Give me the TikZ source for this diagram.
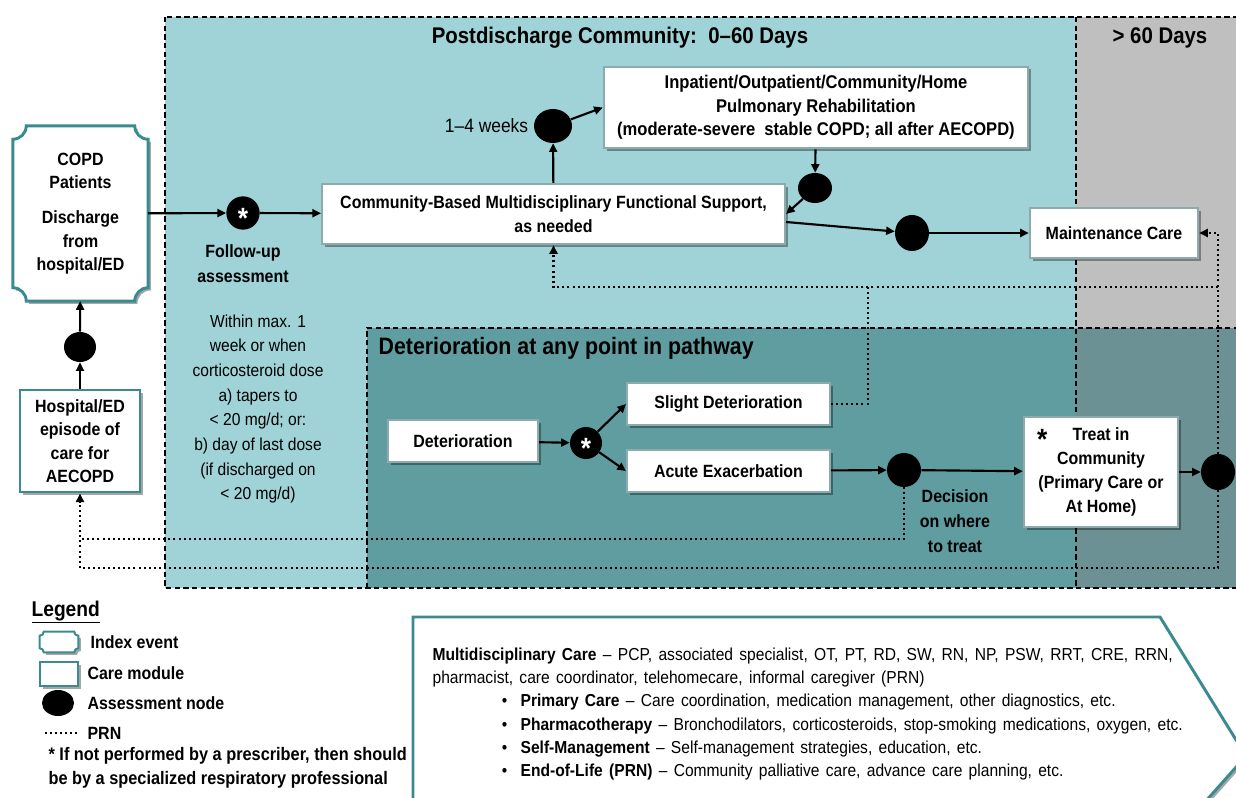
\documentclass[tikz,border=0pt]{standalone}
\usepackage{fontspec}
\setmainfont{Liberation Sans}[FakeStretch=0.9]
\newfontfamily\narrowfont{Liberation Sans}[FakeStretch=0.9, WordSpace=1.45]
\usetikzlibrary{arrows.meta, positioning, shapes.geometric, shadows, backgrounds, calc}
\definecolor{clrCommunity}{HTML}{9FD3D7}
\definecolor{clrLater}{HTML}{BFBFBF}
\definecolor{clrDeter}{HTML}{5F9DA1}
\definecolor{clrDeterLater}{HTML}{6B9195}
\definecolor{clrIndex}{HTML}{3A8B91}
\definecolor{clrBoxLine}{HTML}{8DAAAD}

% outline with concave corners round a node (index event)
\newcommand{\indexoutline}[3][]{%
  \path[#1] let \p1=(#2.north west), \p2=(#2.south east), \n1={#3}, \n2={0.552*#3} in
    (\x1+\n1,\y1) -- (\x2-\n1,\y1)
    .. controls (\x2-\n1,\y1-\n2) and (\x2-\n2,\y1-\n1) .. (\x2,\y1-\n1)
    -- (\x2,\y2+\n1)
    .. controls (\x2-\n2,\y2+\n1) and (\x2-\n1,\y2+\n2) .. (\x2-\n1,\y2)
    -- (\x1+\n1,\y2)
    .. controls (\x1+\n1,\y2+\n2) and (\x1+\n2,\y2+\n1) .. (\x1,\y2+\n1)
    -- (\x1,\y1-\n1)
    .. controls (\x1+\n2,\y1-\n1) and (\x1+\n1,\y1-\n2) .. (\x1+\n1,\y1)
    -- cycle;}

\begin{document}
\begin{tikzpicture}[
  x=0.75pt, y=-0.75pt,
  every node/.style={inner sep=1pt},
  shade/.style={drop shadow={shadow xshift=2pt, shadow yshift=-2pt, fill=black, opacity=0.35}},
  box/.style={
    rectangle,
    draw=clrBoxLine,
    line width=1.8pt,
    fill=white,
    align=center,
    font=\bfseries\fontsize{13.3}{17.5}\selectfont,
    shade
  },
  carebox/.style={box, draw=clrIndex, line width=2.2pt},
  indexnode/.style={rectangle, align=center, font=\bfseries\fontsize{13.3}{17.5}\selectfont},
  indexline/.style={draw=clrIndex, line width=2.2pt, fill=white, shade},
  assess/.style={ellipse, fill=black, inner sep=0pt, minimum width=25.5pt, minimum height=24pt},
  starnode/.style={circle, fill=black, inner sep=0pt, minimum size=25pt,
    text=white, font=\bfseries\fontsize{22}{22}\selectfont},
  flow/.style={-{Triangle[length=6.5pt, width=6pt]}, line width=1.6pt},
  prn/.style={line width=1.8pt, dash pattern=on 1.5pt off 2.3pt},
  prnflow/.style={prn, -{Triangle[length=6.5pt, width=6pt]}},
  zone/.style={line width=0.9pt, dash pattern=on 4pt off 2.5pt},
  title/.style={font=\bfseries\fontsize{17}{20}\selectfont},
  note/.style={align=center, font=\fontsize{13}{18.5}\selectfont},
  notebf/.style={align=center, font=\bfseries\fontsize{13.3}{18.5}\selectfont},
  legtext/.style={anchor=west, font=\bfseries\fontsize{13.3}{18}\selectfont}
]
\useasboundingbox (0,0) rectangle (1236,798);

% ── zones ────────────────────────────────────────────────────────────────────
\begin{pgfonlayer}{background}
  \fill[clrCommunity] (165,17) rectangle (1076,588);
  \fill[clrLater] (1076,17) rectangle (1240,588);
  \fill[clrDeter] (367,328) rectangle (1076,588);
  \fill[clrDeterLater] (1076,328) rectangle (1240,588);
  \draw[zone] (165,17) rectangle (1240,588);
  \draw[zone] (1076,17) -- (1076,588);
  \draw[zone] (367,588) |- (1240,328);
\end{pgfonlayer}

\node[title] (ttlComm) at (620,38) {Postdischarge Community:\ \ 0–60 Days};
\node[title] (ttlLate) at (1160,38) {> 60 Days};
\node[title, anchor=west, font=\bfseries\fontsize{17.8}{20}\selectfont] (ttlDeter) at (377,348)
  {Deterioration at any point in pathway};

% ── index event and hospital ─────────────────────────────────────────────────
\node[indexnode, minimum width=101pt, minimum height=131pt] (copd) at (80.5,213.5)
  {COPD\\Patients\\[9pt]Discharge\\from\\hospital/ED};
\node[carebox, minimum width=90pt, minimum height=76.5pt] (hosp) at (80,441)
  {Hospital/ED\\episode of\\care for\\AECOPD};
\node[assess, minimum width=24pt, minimum height=22.5pt] (aHosp) at (80,347) {};

% ── community ────────────────────────────────────────────────────────────────
\node[starnode] (fu) at (243,213) {\raisebox{-0.52em}[0pt][0pt]{*}};
\node[notebf, below=10pt of fu] (fuLabel) {Follow-up\\assessment};
\node[note, anchor=north] (fuWhen) at (258,313)
  {Within max. 1\\week or when\\corticosteroid dose\\a) tapers to\\< 20 mg/d; or:\\b) day of last dose\\(if discharged on\\< 20 mg/d)};

\node[box, minimum width=347pt, minimum height=45pt] (cbs) at (553.5,214)
  {Community-Based Multidisciplinary Functional Support,\\as needed};
\node[assess, minimum width=28.5pt, minimum height=25.5pt] (aWeeks) at (553,126) {};
\node[note, left=3pt of aWeeks, font=\fontsize{14.5}{16}\selectfont] (weeks) {1–4 weeks};
\node[box, minimum width=318pt, minimum height=61pt, font=\bfseries\fontsize{13.8}{17.5}\selectfont] (rehab) at (816,107.5)
  {Inpatient/Outpatient/Community/Home\\Pulmonary Rehabilitation\\(moderate-severe\ \ stable COPD; all after AECOPD)};
\node[assess, minimum width=25.5pt, minimum height=22.5pt] (aRehab) at (815,188) {};
\node[assess, minimum width=25.5pt, minimum height=27pt] (aMaint) at (912,233) {};
\node[box, minimum width=126pt, minimum height=37.5pt] (maint) at (1114,233) {Maintenance Care};

% ── deterioration ────────────────────────────────────────────────────────────
\node[box, minimum width=112.5pt, minimum height=31.5pt] (deter) at (463,441) {Deterioration};
\node[starnode, minimum size=24pt] (aDeter) at (586,443) {\raisebox{-0.52em}[0pt][0pt]{*}};
\node[box, minimum width=152pt, minimum height=31.5pt] (slight) at (728.5,404) {Slight Deterioration};
\node[box, minimum width=152pt, minimum height=31.5pt] (acute) at (728.5,471) {Acute Exacerbation};
\node[assess, minimum width=25.5pt, minimum height=25.5pt] (aDecide) at (904,470) {};
\node[notebf] (decide) at (955,521) {Decision\\on where\\to treat};
\node[box, minimum width=115.5pt, minimum height=82.5pt, font=\bfseries\fontsize{13.3}{18}\selectfont] (treat) at (1101,472)
  {\makebox[0pt][r]{\fontsize{22}{22}\selectfont\raisebox{-7pt}{*}\hspace{19pt}}Treat in\\Community\\(Primary Care or\\At Home)};
\node[assess, minimum width=25.5pt, minimum height=27pt] (aTreat) at (1218,472) {};

\coordinate (prnTop) at (1218,287);
\coordinate (prnSlight) at (868,287);
\coordinate (prnLow) at (80,568);
\coordinate (prnMid) at (80,539);

% ── arrows ───────────────────────────────────────────────────────────────────
\draw[flow] (hosp) -- (aHosp);
\draw[flow] (aHosp) -- (copd);
\draw[flow] (copd) -- (fu);
\draw[flow] (fu) -- (cbs);
\draw[flow] (cbs) -- (aWeeks);
\draw[flow] (aWeeks) -- (rehab.west);
\draw[flow] (rehab) -- (aRehab);
\draw[flow] (aRehab) -- (cbs.east);
\draw[flow] ([yshift=-6pt]cbs.east) -- (aMaint);
\draw[flow] (aMaint) -- (maint);
\draw[flow] (deter) -- (aDeter);
\draw[flow] (aDeter) -- (slight.west);
\draw[flow] (aDeter) -- (acute.west);
\draw[flow] (acute) -- (aDecide);
\draw[flow] (aDecide) -- (treat);
\draw[flow] (treat) -- (aTreat);

% PRN paths
\draw[prnflow] (aTreat.north) |- (maint.east);
\draw[prnflow] (prnTop) -| (cbs.south);
\draw[prn] (slight) -| (prnSlight);
\draw[prnflow] (aTreat.south) |- (prnLow) -- (hosp.south);
\draw[prn] (aDecide.south) |- (prnMid);

% ── legend ───────────────────────────────────────────────────────────────────
\node[anchor=west, font=\bfseries\fontsize{16}{18}\selectfont] (legTitle) at (30,612) {\underline{Legend}};
\node[minimum width=28.5pt, minimum height=15pt, inner sep=0pt] (legIndex) at (59,642) {};
\node[carebox, minimum width=28.5pt, minimum height=18pt, inner sep=0pt, line width=1.5pt] (legCare) at (59,674) {};
\node[assess, minimum width=24pt, minimum height=19.5pt] (legAssess) at (58,703) {};
\coordinate (legPrnA) at (45,733);
\coordinate (legPrnB) at (77,733);
\draw[prn, line width=1.5pt] (legPrnA) -- (legPrnB);
\node[legtext] (legIndexTxt) at (89,642) {Index event};
\node[legtext] (legCareTxt) at (86,673) {Care module};
\node[legtext] (legAssessTxt) at (86,703) {Assessment node};
\node[legtext] (legPrnTxt) at (86,733) {PRN};
\node[legtext, anchor=north west, align=left, font=\bfseries\fontsize{13.6}{18}\selectfont] (legNote) at (47,746)
  {* If not performed by a prescriber, then should\\be by a specialized respiratory professional};

\begin{pgfonlayer}{background}
  \indexoutline[indexline]{copd}{10pt}
  \indexoutline[indexline, line width=1.5pt]{legIndex}{3pt}
\end{pgfonlayer}

% ── care components ──────────────────────────────────────────────────────────
\draw[draw=clrIndex, line width=2.2pt, fill=white, shade]
  (413,617) -- (1160,617) -- (1246,756) -- (1180,830) -- (413,830) -- cycle;
\node[anchor=north west, align=left, font=\narrowfont\fontsize{13}{17.5}\selectfont] (careText) at (431,646)
  {\textbf{Multidisciplinary Care} – PCP, associated specialist, OT, PT, RD, SW, RN, NP, PSW, RRT, CRE, RRN,\\
   pharmacist, care coordinator, telehomecare, informal caregiver (PRN)\\
   \hspace*{52pt}\makebox[14pt][l]{\textbullet}\textbf{Primary Care} – Care coordination, medication management, other diagnostics, etc.\\
   \hspace*{52pt}\makebox[14pt][l]{\textbullet}\textbf{Pharmacotherapy} – Bronchodilators, corticosteroids, stop-smoking medications, oxygen, etc.\\
   \hspace*{52pt}\makebox[14pt][l]{\textbullet}\textbf{Self-Management} – Self-management strategies, education, etc.\\
   \hspace*{52pt}\makebox[14pt][l]{\textbullet}\textbf{End-of-Life (PRN)} – Community palliative care, advance care planning, etc.};

\end{tikzpicture}
\end{document}
